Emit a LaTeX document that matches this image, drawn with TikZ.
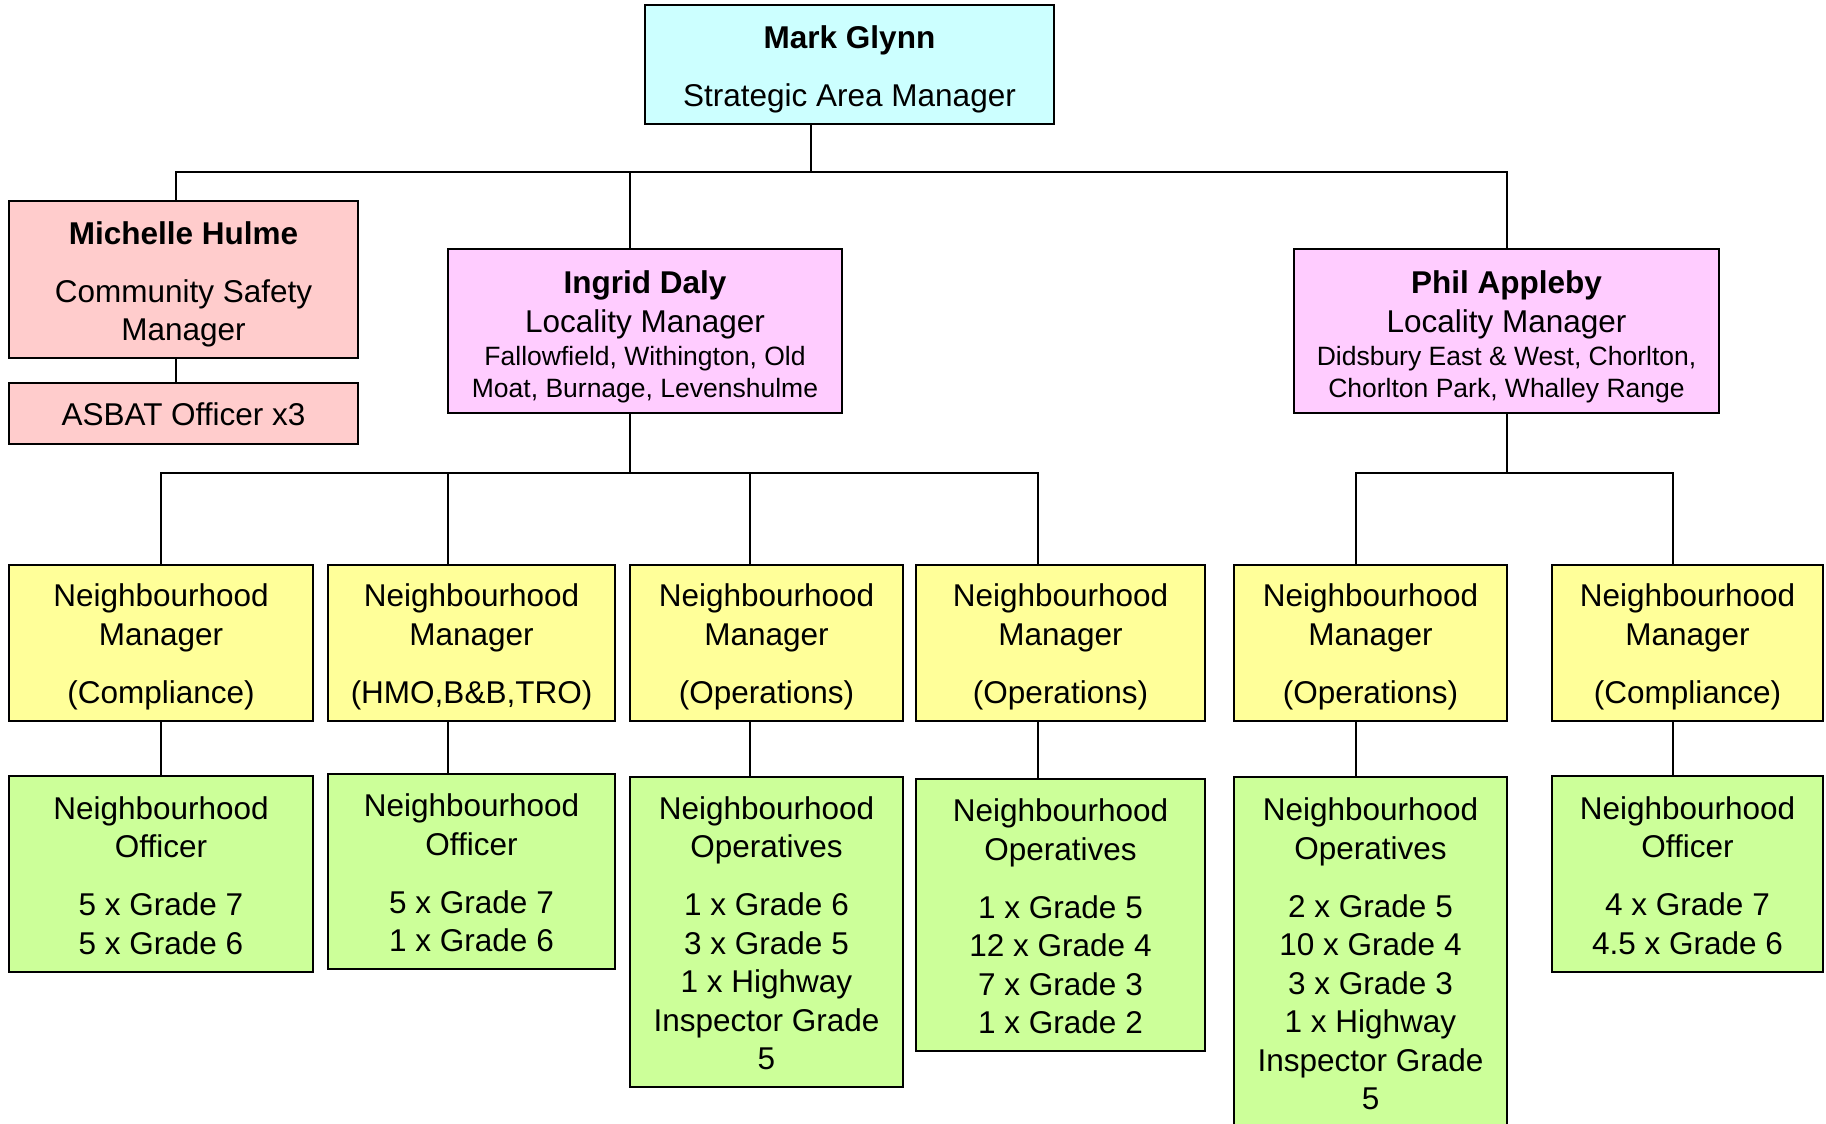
\documentclass[tikz,border=0pt]{standalone}
\usepackage{fontspec}
\setmainfont{Liberation Sans}
\definecolor{headcyan}{HTML}{CCFFFF}
\definecolor{safetypink}{HTML}{FFCCCC}
\definecolor{localpink}{HTML}{FFCCFF}
\definecolor{nmyellow}{HTML}{FFFF99}
\definecolor{nogreen}{HTML}{CCFF99}

\begin{document}
\begin{tikzpicture}[x=1pt,y=-1pt]
\tikzset{BoxStyle/.style = {shape=rectangle, draw=black, line width=2.4pt,
                            inner sep=0pt, align=center,
                            font=\fontsize{31.5}{38.5}\selectfont}
  }
\tikzset{LinkStyle/.style={line width=1.6pt}}
\tikzset{NmStyle/.style={BoxStyle, fill=nmyellow, minimum height=156pt}}
\tikzset{NoStyle/.style={BoxStyle, fill=nogreen}}
\newcommand{\Ward}[1]{{\fontsize{26.5}{31.5}\selectfont #1}}
\newcommand{\Lift}[1]{\rule{0pt}{#1}}

\useasboundingbox (0,0) rectangle (1826,1124);

% top and second row
\node[BoxStyle, fill=headcyan, minimum width=409pt, minimum height=119pt]
  (m0) at (849.5,64.5) {\Lift{33pt}\textbf{Mark Glynn}\\[19.5pt]Strategic Area Manager};
\node[BoxStyle, fill=safetypink, minimum width=349pt, minimum height=157pt]
  (c0) at (183.5,279.5) {\Lift{33pt}\textbf{Michelle Hulme}\\[19.5pt]Community Safety\\Manager};
\node[BoxStyle, fill=safetypink, minimum width=349pt, minimum height=61pt]
  (c1) at (183.5,413.5) {\Lift{25pt}ASBAT Officer x3};
\node[BoxStyle, fill=localpink, minimum width=394pt, minimum height=164pt]
  (l0) at (645,331) {\Lift{35pt}\textbf{Ingrid Daly}\\Locality Manager\\[-5pt]
  \Ward{Fallowfield, Withington, Old}\\[-6.5pt]\Ward{Moat, Burnage, Levenshulme}};
\node[BoxStyle, fill=localpink, minimum width=425pt, minimum height=164pt]
  (l1) at (1506.5,331) {\Lift{35pt}\textbf{Phil Appleby}\\Locality Manager\\[-5pt]
  \Ward{Didsbury East \& West, Chorlton,}\\[-6.5pt]\Ward{Chorlton Park, Whalley Range}};

% neighbourhood managers
\node[NmStyle, minimum width=304pt] (n0) at (161,643)
  {\Lift{31pt}Neighbourhood\\Manager\\[19.5pt](Compliance)};
\node[NmStyle, minimum width=287pt] (n1) at (471.5,643)
  {\Lift{31pt}Neighbourhood\\Manager\\[19.5pt](HMO,B\&B,TRO)};
\node[NmStyle, minimum width=273pt] (n2) at (766.5,643)
  {\Lift{31pt}Neighbourhood\\Manager\\[19.5pt](Operations)};
\node[NmStyle, minimum width=289pt] (n3) at (1060.5,643)
  {\Lift{31pt}Neighbourhood\\Manager\\[19.5pt](Operations)};
\node[NmStyle, minimum width=273pt] (n4) at (1370.5,643)
  {\Lift{31pt}Neighbourhood\\Manager\\[19.5pt](Operations)};
\node[NmStyle, minimum width=271pt] (n5) at (1687.5,643)
  {\Lift{31pt}Neighbourhood\\Manager\\[19.5pt](Compliance)};

% officers and operatives
\node[NoStyle, minimum width=304pt, minimum height=196pt] (o0) at (161,874)
  {\Lift{25.5pt}Neighbourhood\\Officer\\[19.5pt]5 x Grade 7\\5 x Grade 6};
\node[NoStyle, minimum width=287pt, minimum height=195pt] (o1) at (471.5,871.5)
  {\Lift{25.5pt}Neighbourhood\\Officer\\[19.5pt]5 x Grade 7\\1 x Grade 6};
\node[NoStyle, minimum width=273pt, minimum height=310pt] (o2) at (766.5,932)
  {\Lift{25.5pt}Neighbourhood\\Operatives\\[19.5pt]1 x Grade 6\\3 x Grade 5\\1 x Highway\\Inspector Grade\\5};
\node[NoStyle, minimum width=289pt, minimum height=272pt] (o3) at (1060.5,915)
  {\Lift{25.5pt}Neighbourhood\\Operatives\\[19.5pt]1 x Grade 5\\12 x Grade 4\\7 x Grade 3\\1 x Grade 2};
\node[NoStyle, minimum width=273pt, minimum height=351pt] (o4) at (1370.5,952.5)
  {\Lift{25.5pt}Neighbourhood\\Operatives\\[19.5pt]2 x Grade 5\\10 x Grade 4\\3 x Grade 3\\1 x Highway\\Inspector Grade\\5};
\node[NoStyle, minimum width=271pt, minimum height=196pt] (o5) at (1687.5,874)
  {\Lift{25.5pt}Neighbourhood\\Officer\\[19.5pt]4 x Grade 7\\4.5 x Grade 6};

% bus points
\coordinate (b0) at (811,172);
\coordinate (b1) at (176,172);
\coordinate (b2) at (630,172);
\coordinate (b3) at (1507,172);
\coordinate (d0) at (630,473);
\coordinate (d1) at (161,473);
\coordinate (d2) at (448,473);
\coordinate (d3) at (750,473);
\coordinate (d4) at (1038,473);
\coordinate (e0) at (1507,473);
\coordinate (e1) at (1356,473);
\coordinate (e2) at (1673,473);

\draw[LinkStyle] (b0 |- m0.south) -- (b0);
\draw[LinkStyle] (b1 |- c0.north) -- (b1) -- (b3) -- (b3 |- l1.north);
\draw[LinkStyle] (b2) -- (b2 |- l0.north);
\draw[LinkStyle] (b1 |- c0.south) -- (b1 |- c1.north);
%-----------------------------
\draw[LinkStyle] (d0 |- l0.south) -- (d0);
\draw[LinkStyle] (d1 |- n0.north) -- (d1) -- (d4) -- (d4 |- n3.north);
\draw[LinkStyle] (d2) -- (d2 |- n1.north);
\draw[LinkStyle] (d3) -- (d3 |- n2.north);
%-----------------------------
\draw[LinkStyle] (e0 |- l1.south) -- (e0);
\draw[LinkStyle] (e1 |- n4.north) -- (e1) -- (e2) -- (e2 |- n5.north);
%-----------------------------
\draw[LinkStyle] (d1 |- n0.south) -- (d1 |- o0.north);
\draw[LinkStyle] (d2 |- n1.south) -- (d2 |- o1.north);
\draw[LinkStyle] (d3 |- n2.south) -- (d3 |- o2.north);
\draw[LinkStyle] (d4 |- n3.south) -- (d4 |- o3.north);
\draw[LinkStyle] (e1 |- n4.south) -- (e1 |- o4.north);
\draw[LinkStyle] (e2 |- n5.south) -- (e2 |- o5.north);

\end{tikzpicture}
\end{document}
